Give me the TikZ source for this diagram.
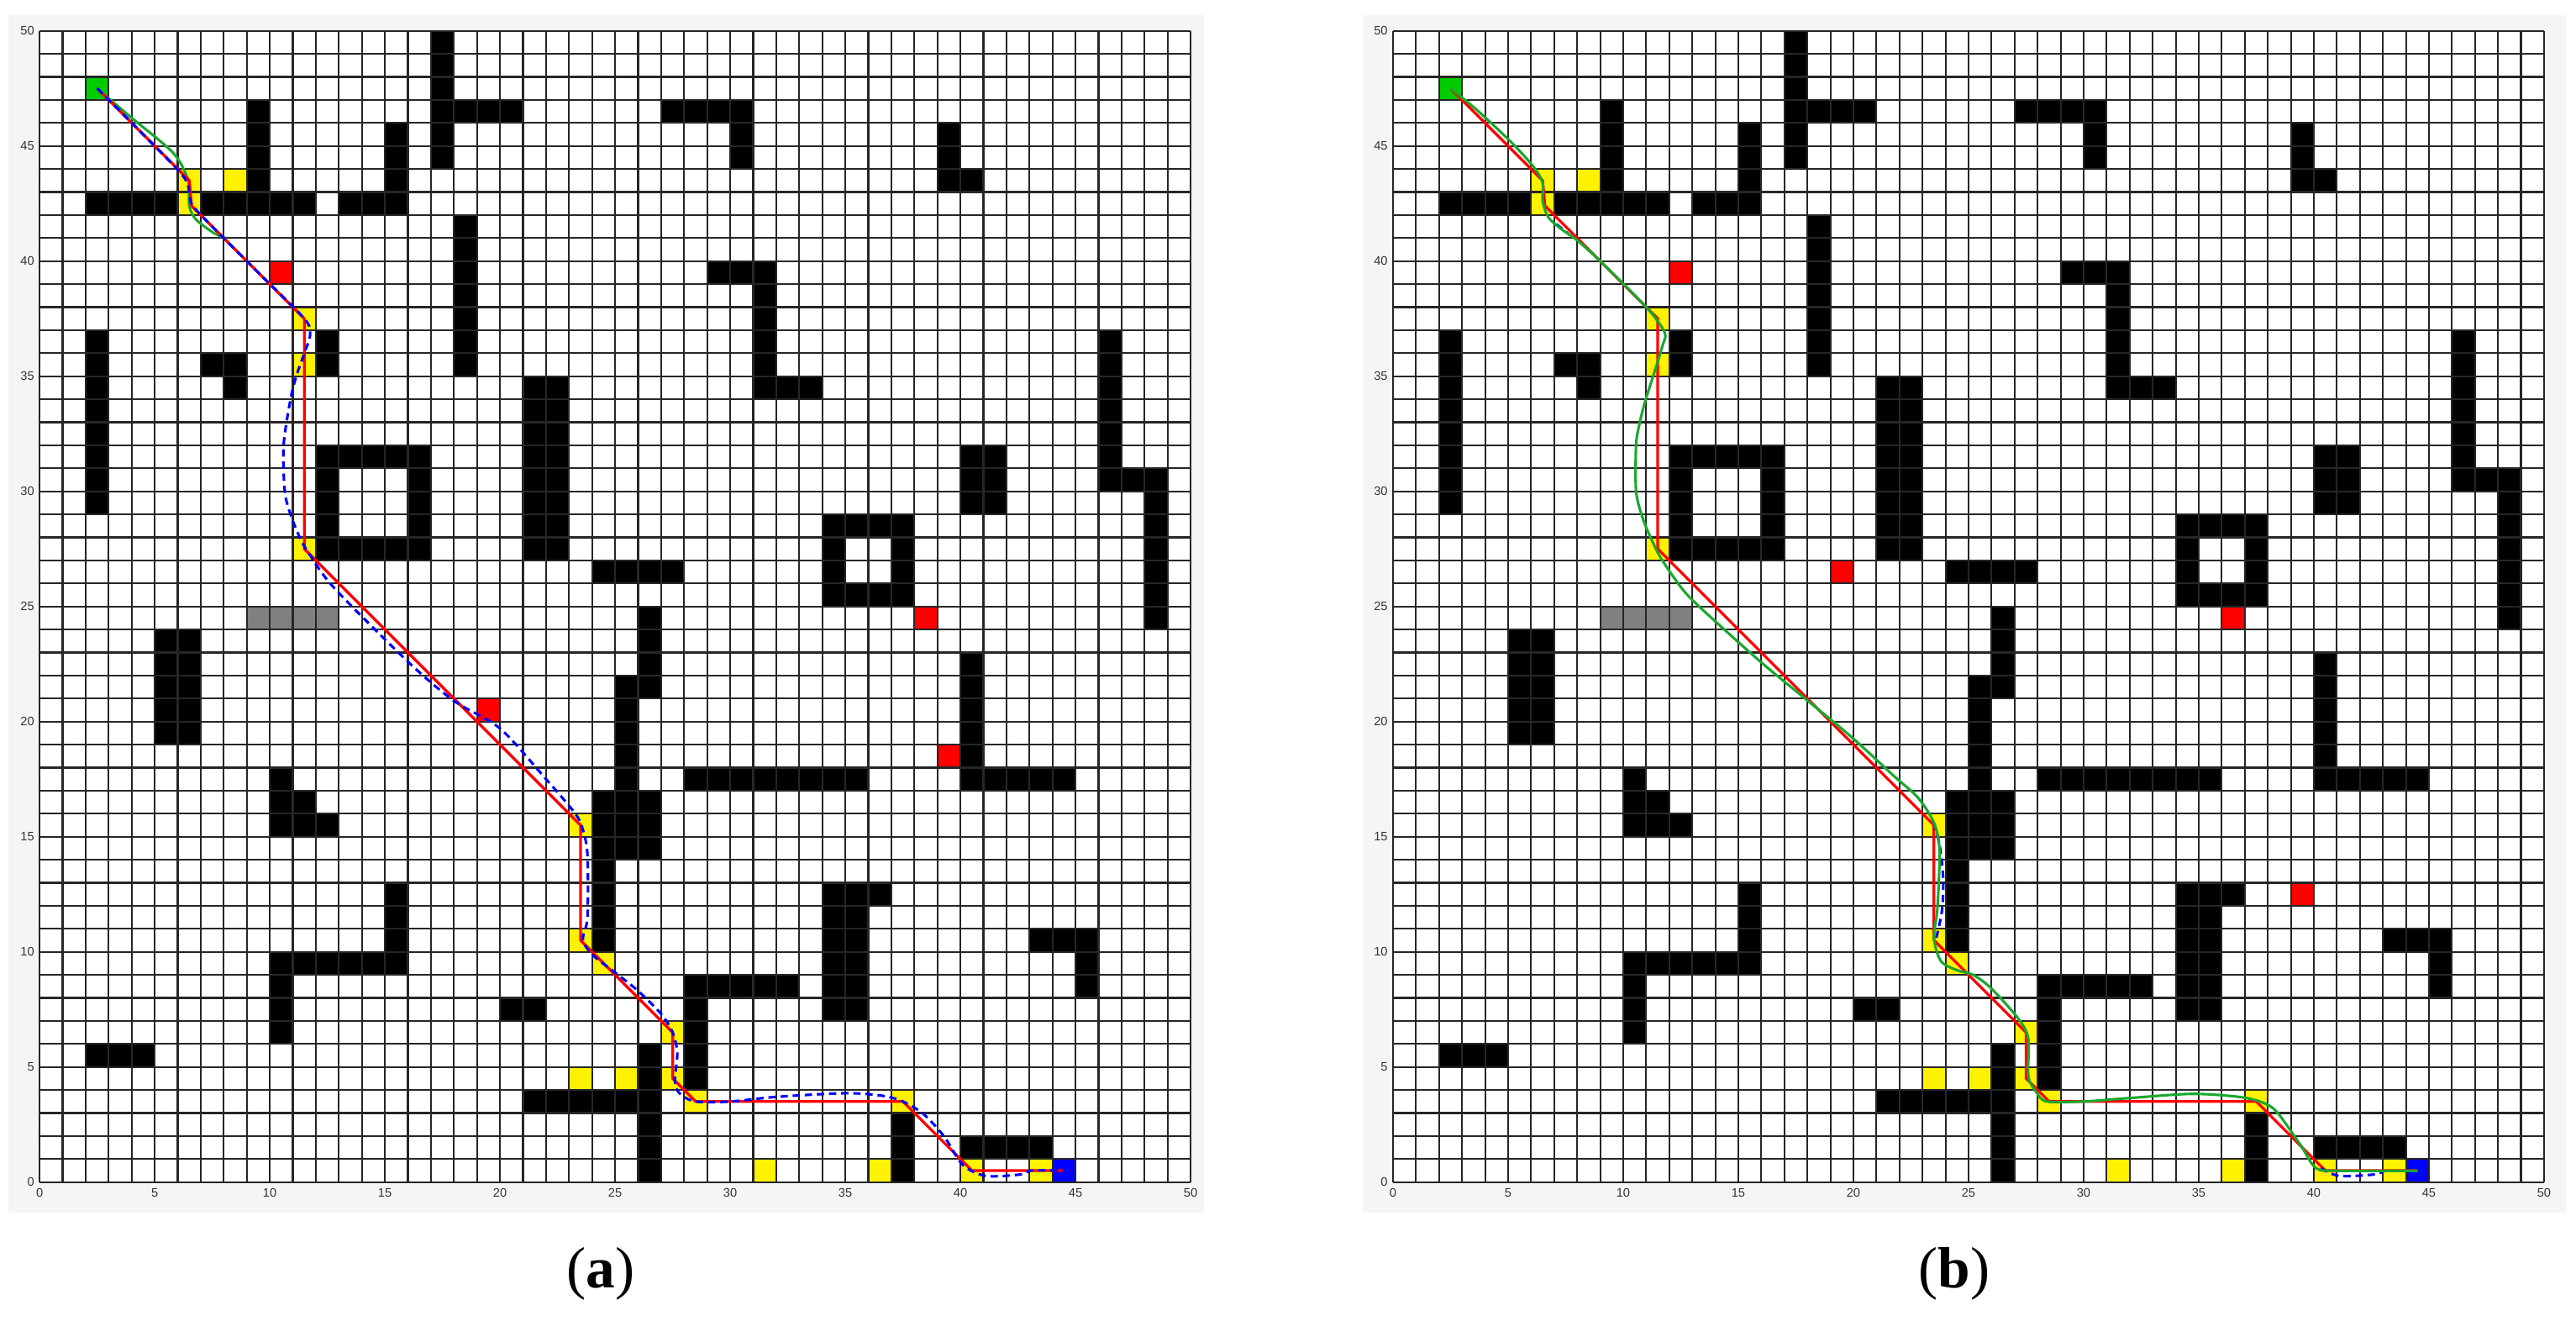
\documentclass[tikz,border=0pt]{standalone}
\usepackage{fontspec}
\setmainfont{Liberation Serif}
\setsansfont{Liberation Sans}
\usepackage{tikz}
\definecolor{figbg}{rgb}{0.96,0.96,0.96}
\definecolor{startg}{rgb}{0,0.8,0}
\definecolor{curveg}{rgb}{0.1,0.66,0.18}
\tikzstyle{wall}=[fill=black]
\tikzstyle{waypt}=[fill=yellow]
\tikzstyle{danger}=[fill=red]
\tikzstyle{slowcell}=[fill=black!50]
\tikzstyle{gridln}=[black!85, line width=1.1pt]
\tikzstyle{ticklbl}=[font=\sffamily\fontsize{7.6}{8}\selectfont, inner sep=1pt, text=black!80]
\tikzstyle{redpath}=[red, line width=1.7pt, line join=round]
\tikzstyle{bluepath}=[blue, line width=1.6pt, dash pattern=on 4.5pt off 3pt]
\tikzstyle{greenpath}=[curveg, line width=1.6pt]
\tikzstyle{caption}=[font=\fontsize{36}{40}\selectfont]

\newcommand{\gridmap}{
\fill[white] (0,0) rectangle (50,50);
\foreach \xa/\ya/\xb/\yb in {17/44/18/50, 18/46/21/47, 9/43/10/47, 2/42/6/43, 7/42/12/43, 13/42/16/43, 15/43/16/46, 18/35/19/42, 12/35/13/37, 2/29/3/37, 7/35/9/36, 8/34/9/35, 21/27/23/35, 27/46/31/47, 30/44/31/46, 39/44/40/46, 39/43/41/44, 29/39/32/40, 31/34/32/39, 31/34/34/35, 46/30/47/37, 47/30/48/31, 48/24/49/31, 40/29/42/32, 24/26/28/27, 26/21/27/25, 25/14/26/22, 26/14/27/17, 24/10/25/17, 40/17/41/23, 40/17/45/18, 28/17/36/18, 5/19/7/24, 10/15/11/18, 11/15/12/17, 12/15/13/16, 15/9/16/13, 10/9/16/10, 10/6/11/9, 20/7/22/8, 2/5/5/6, 21/3/27/4, 26/0/27/6, 34/7/36/13, 36/12/37/13, 43/10/46/11, 45/8/46/11, 28/8/33/9, 28/4/29/9, 37/0/38/3, 40/1/44/2}
  {\fill[wall] (\xa,\ya) rectangle (\xb,\yb);}
\fill[wall,even odd rule] (12,27) rectangle (17,32) (13,28) rectangle (16,31);
\fill[wall,even odd rule] (34,25) rectangle (38,29) (35,26) rectangle (37,28);
\foreach \xa/\ya/\xb/\yb in {6/42/7/44, 8/43/9/44, 11/37/12/38, 11/35/12/36, 11/27/12/28, 23/15/24/16, 23/10/24/11, 24/9/25/10, 23/4/24/5, 25/4/26/5, 27/6/28/7, 27/4/28/5, 28/3/29/4, 37/3/38/4, 31/0/32/1, 36/0/37/1, 40/0/41/1, 43/0/44/1}
  {\fill[waypt] (\xa,\ya) rectangle (\xb,\yb);}
\fill[slowcell] (9,24) rectangle (13,25);
\fill[startg] (2,47) rectangle (3,48);
\fill[blue] (44,0) rectangle (45,1);
}

\newcommand{\gridaxes}[1]{
\draw[gridln,step=1] (0,0) grid (50,50);
\foreach \v in {0,5,...,50} {
  \node[ticklbl,anchor=north] (#1x\v) at (\v,-0.2) {\v};
  \node[ticklbl,anchor=east] (#1y\v) at (-0.15,\v) {\v};
}
}

\newcommand{\redroute}{
\draw[redpath] (2.5,47.5) -- (6.5,43.5) -- (6.6,42.4) -- (11.5,37.5) -- (11.5,27.5) -- (23.5,15.5) -- (23.5,10.5) -- (27.5,6.5) -- (27.5,4.5) -- (28.5,3.5) -- (37.5,3.5) -- (40.5,0.5) -- (44.5,0.5);
}

\begin{document}
\begin{tikzpicture}[x=0.5cm,y=0.5cm]
\useasboundingbox (0,0) rectangle (111.9,57.34);
\fill[white] (0,0) rectangle (111.9,57.34);
\fill[figbg] (0.36,4.67) rectangle (52.3,56.7);
\fill[figbg] (59.2,4.67) rectangle (111.45,56.7);

\begin{scope}[shift={(1.72,6)}]
\gridmap
\foreach \xa/\ya in {10/39, 19/20, 38/24, 39/18} {\fill[danger] (\xa,\ya) rectangle ++(1,1);}
\gridaxes{a}
\draw[greenpath] plot[smooth,tension=0.5] coordinates {(2.5,47.5) (3.9,46.3) (5.8,44.7) (6.45,43.5) (6.5,42.4) (6.8,41.8) (7.6,41.2) (8.1,41.0)};
\redroute
\draw[bluepath] plot[smooth,tension=0.5] coordinates {(2.5,47.5) (4.5,45.5) (6.3,43.6) (6.6,42.5) (7.5,41.5) (9.5,39.5) (11.5,37.5) (11.75,36.8) (11.5,36) (11.15,35) (10.9,34) (10.6,32) (10.65,30) (10.9,29) (11.3,28) (11.7,27.3) (12.8,25.8) (16,22.6) (18,20.9) (20,19.7) (22,17.5) (23.27,16) (23.6,15.3) (23.8,14.2) (23.8,11.5) (23.6,10.5) (24.1,9.8) (25,9.1) (26,8.3) (27,7.3) (27.5,6.5) (27.7,5.6) (27.6,4.4) (27.8,3.85) (28.5,3.5) (30,3.5) (32,3.7) (35,3.86) (36.6,3.75) (37.5,3.5) (38.4,2.95) (39.3,1.97) (40.1,0.75) (41.1,0.27) (42.6,0.33) (43.1,0.5) (44.5,0.5)};
\end{scope}

\begin{scope}[shift={(60.51,6)}]
\gridmap
\foreach \xa/\ya in {12/39, 19/26, 36/24, 39/12} {\fill[danger] (\xa,\ya) rectangle ++(1,1);}
\gridaxes{b}
\redroute
\draw[bluepath] plot[smooth,tension=0.5] coordinates {(23.5,15.6) (23.75,14.6) (23.9,13.2) (23.85,11.8) (23.6,10.6)};
\draw[bluepath] plot[smooth,tension=0.5] coordinates {(40.3,0.6) (41.1,0.27) (42.6,0.33) (43.1,0.5)};
\draw[bluepath] (7.1,41.6) -- (7.6,41.2);
\draw[greenpath] plot[smooth,tension=0.5] coordinates {(2.5,47.5) (3.6,46.6) (5.1,45.2) (6.1,44.1) (6.5,43.4) (6.5,42.6) (6.75,41.9) (7.3,41.4) (8,40.9) (9,40) (11,38) (11.8,36.9) (11.7,36.3) (11.3,35) (10.95,33.9) (10.7,32.9) (10.56,32) (10.56,30) (10.86,28.8) (11.28,27.8) (11.7,27) (12.7,25.6) (14.06,24.3) (16.08,22.5) (17.9,21) (19.95,19.3) (21.8,17.6) (22.8,16.7) (23.5,15.6) (23.74,14.4) (23.65,11.9) (23.5,10.6) (23.8,9.6) (24.5,9.2) (25.2,9.0) (26,8.4) (27.2,7.05) (27.6,6.2) (27.6,4.6) (27.95,3.9) (28.4,3.5) (30,3.5) (32,3.65) (34.7,3.83) (36.75,3.7) (37.76,3.46) (38.4,3.04) (39.44,1.58) (40.1,0.6) (41.1,0.49) (44.5,0.49)};
\end{scope}

\node[caption] (capa) at (26.1,2.0) {(\textbf{a})};
\node[caption] (capb) at (84.9,2.0) {(\textbf{b})};
\end{tikzpicture}
\end{document}
